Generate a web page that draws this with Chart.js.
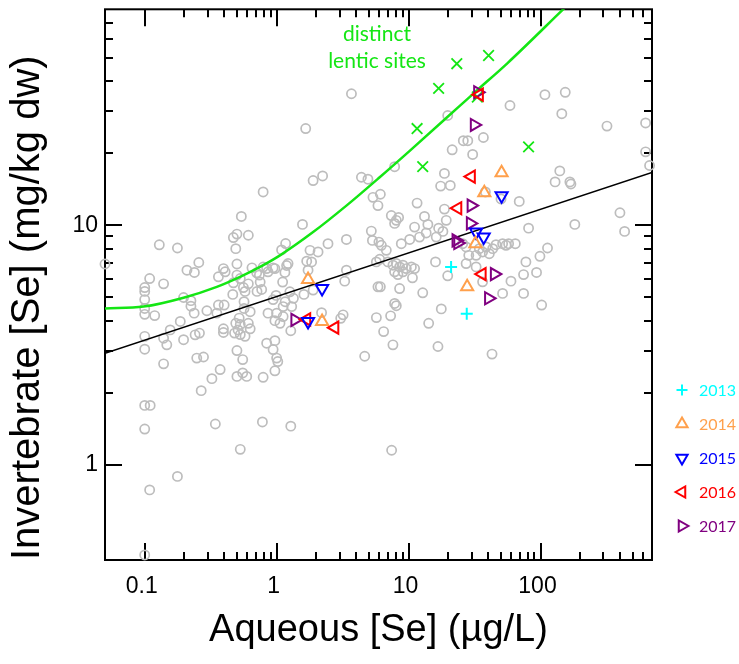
<!DOCTYPE html>
<html><head><meta charset="utf-8">
<script src="https://cdn.jsdelivr.net/npm/chart.js@4.4.1/dist/chart.umd.min.js"></script>
<style>html,body{margin:0;padding:0;background:#fff}#wrap{width:739px;height:664px;position:relative}</style>
</head><body><div id="wrap"><canvas id="c" width="739" height="664"></canvas></div>
<script>
// ---- axis tick labels ----
const xTickValues = [0.1, 1, 10, 100];
const xTickLabels = ['0.1', '1', '10', '100'];
const yTickValues = [1, 10];
const yTickLabels = ['1', '10'];
const legendYears = ['2013', '2014', '2015', '2016', '2017'];

// ---- all sites (grey circles) ----
const allAqueous = [0.79,0.54,0.50,0.61,0.47,0.49,0.129,0.177,1.17,1.09,0.257,0.05,0.209,0.238,0.50,0.395,0.407,0.65,0.79,0.94,1.19,0.362,0.50,0.53,0.109,0.139,0.1,0.1,0.1,0.1,0.1,0.119,0.197,0.224,0.224,0.237,0.296,0.362,0.40,0.352,0.465,0.56,0.576,0.61,0.71,0.77,0.75,0.74,0.86,0.97,1.11,0.99,0.94,1.16,0.566,0.566,0.63,0.52,0.49,0.53,0.61,0.63,0.51,0.48,0.53,0.576,0.395,0.395,0.86,1.0,0.97,1.12,1.06,0.186,0.156,0.139,0.147,0.197,0.241,0.26,0.1,0.1,0.50,0.553,0.84,0.97,0.94,1.0,1.02,0.97,0.248,0.279,0.139,0.373,0.323,0.50,0.553,0.593,0.79,0.47,0.706,0.84,1.155,1.22,0.268,0.1,0.11,0.1,0.343,0.78,1.28,0.53,7.44,0.177,0.109,0.1,4.65,3.19,1.28,5.7,7.31,7.84,8.07,6.47,7.61,14.2,17.7,16.7,42.9,102,51.6,74.4,12.8,1.89,2.23,4.39,4.92,7.84,5.37,6.11,5.86,11.6,18.7,17.5,20.7,18.7,7.4,8.07,7.84,8.4,13.2,14.0,11.1,13.6,19.3,16.9,1.57,5.22,3.38,2.45,5.32,5.96,6.22,6.78,8.81,10.2,12.1,16.2,18.2,2.06,1.79,1.69,1.84,1.73,3.38,3.28,5.7,6.04,6.97,7.61,8.07,8.55,9.06,9.61,10.5,11.1,7.84,8.3,9.06,10.7,16.0,19.8,5.86,6.11,8.55,2.19,3.06,1.61,1.89,1.26,1.34,1.12,1.30,108,154,58.7,145,319,626,26.0,28.1,36.9,30.6,626,671,140,129,167,170,69,50.2,38.2,400,182,81.2,434,51.6,57.3,64.4,54.8,46.0,113,99,77.5,93.3,74.4,59.7,27.3,28.6,32.5,36.4,40.9,43.4,34.4,38.7,25.7,27.3,32.5,36.4,19.8,21.4,3.69,1.66];
const allInvert = [13.8,10.9,9.2,9.1,8.9,8.0,8.3,8.05,8.4,7.9,7.0,6.9,6.5,6.36,6.9,6.6,6.4,6.65,6.7,6.65,6.8,6.1,6.2,6.0,6.0,5.7,5.5,5.3,4.9,4.5,4.25,4.2,5.0,4.85,4.6,4.3,4.4,4.65,4.65,4.3,5.15,5.5,5.3,5.7,5.3,5.4,5.8,6.2,6.4,6.6,5.8,5.1,4.9,4.8,4.8,4.5,4.36,4.1,3.9,3.86,3.9,3.7,3.66,3.55,3.5,3.44,3.7,3.57,4.3,4.3,4.0,4.16,3.9,3.97,3.66,3.38,3.17,3.33,3.49,3.55,3.44,3.04,3.0,2.75,3.22,3.3,3.03,2.79,2.7,2.47,2.79,2.82,2.64,2.5,2.29,2.34,2.42,2.34,2.32,5.76,6.34,6.6,6.36,6.93,2.04,1.77,1.77,1.41,1.48,1.51,1.45,1.16,1.15,0.894,0.785,0.42,2.84,4.23,3.63,4.12,4.19,4.72,4.62,3.6,3.17,3.9,4.48,3.12,2.9,4.65,5.2,5.2,5.23,15.4,16.1,15.9,15.6,17.6,13.1,13.5,12.1,12.4,16.5,14.6,14.7,11.7,11.0,10.5,10.2,10.8,10.9,10.1,9.84,9.3,10.5,9.74,10.1,9.47,8.74,8.39,8.66,8.52,8.26,7.87,8.39,8.74,8.94,8.94,9.44,7.75,7.87,7.09,7.04,6.5,6.5,5.85,7.04,7.22,7.04,6.82,6.93,6.71,6.82,6.6,6.71,6.6,6.4,6.23,6.4,6.04,7.04,6.16,5.54,5.54,5.45,4.32,4.09,5.15,5.37,5.28,4.96,4.58,4.58,35.2,36,31.7,29.3,26,26.8,22.6,22.6,23.3,19.8,20.3,17.8,16.9,15.2,15.2,14.9,12.6,12.9,13.8,11.3,10.1,9.74,9.44,8.39,8.39,8.39,8.26,8.31,8.05,7.43,7.04,6.36,6.23,5.85,8.13,7.5,7.5,7.75,7.62,8.0,8.0,8.13,8.39,6.93,6.71,5.81,28.8,20.7,35.5,25.4];

// ---- distinct lentic sites (green x) ----
const lenticAqueous = [11.6, 12.8, 16.9, 23.2, 40.4, 33.2, 81.2];
const lenticInvert = [25.4, 17.6, 37.4, 47.4, 51.3, 34.4, 21.3];

// ---- yearly samples ----
const y2013Aqueous = [21.0, 27.6];
const y2013Invert = [6.71, 4.28];
const y2014Aqueous = [1.73, 2.21, 27.8, 32.1, 37.5, 50.7];
const y2014Invert = [5.94, 3.97, 5.54, 8.39, 13.7, 16.6];
const y2015Aqueous = [2.21, 1.73, 50.7, 32.5, 37.1];
const y2015Invert = [5.45, 3.97, 13.3, 9.38, 8.94];
const y2016Aqueous = [1.69, 2.76, 23.6, 29.9, 36.1, 34.4];
const y2016Invert = [4.05, 3.74, 11.8, 16.0, 6.26, 35.2];
const y2017Aqueous = [1.375, 22.9, 23.6, 29.8, 29.4, 31.5, 33.4, 44.7, 40.4];
const y2017Invert = [4.03, 8.66, 8.44, 12.1, 10.2, 26.3, 36.0, 6.26, 4.96];

// ---- fitted lines ----
const allFitAqueous = [0.05, 700];
const allFitInvert = [2.92, 16.65];
const lenticFitAqueous = [0.05, 0.098, 0.197, 0.352, 0.528, 0.748, 1.06, 1.89, 3.38, 6.04, 10.2, 24.3, 32.5, 56.3, 151];
const lenticFitInvert = [4.50, 4.58, 4.99, 5.54, 6.10, 6.71, 7.50, 9.38, 12.1, 15.9, 20.5, 31.5, 36.4, 47.7, 80.7];

const pts = (xs, ys) => xs.map((x, i) => ({x: x, y: ys[i]}));
const GREEN = '#14e614';
const GREY = '#bdbdbd';
const yearStyles = [
  {color: '#00ffff', style: 'cross', rot: 0, r: 6},
  {color: '#ffa04c', style: 'triangle', rot: 0, r: 7},
  {color: '#0000ff', style: 'triangle', rot: 180, r: 7},
  {color: '#ff0000', style: 'triangle', rot: 270, r: 7},
  {color: '#800080', style: 'triangle', rot: 90, r: 7}
];
const yearData = [
  pts(y2013Aqueous, y2013Invert), pts(y2014Aqueous, y2014Invert), pts(y2015Aqueous, y2015Invert),
  pts(y2016Aqueous, y2016Invert), pts(y2017Aqueous, y2017Invert)
];

const datasets = [];
yearData.forEach((d, i) => {
  const s = yearStyles[i];
  datasets.push({label: legendYears[i], data: d, showLine: false, pointStyle: s.style, rotation: s.rot,
    pointRadius: s.r, borderWidth: 2, borderColor: s.color, backgroundColor: 'rgba(0,0,0,0)', order: i + 1, clip: false});
});
datasets.push({label: 'lentic', data: pts(lenticAqueous, lenticInvert), showLine: false, pointStyle: 'crossRot',
  pointRadius: 7.5, borderWidth: 1.8, borderColor: GREEN, backgroundColor: GREEN, order: 6, clip: false});
datasets.push({label: 'lenticFit', data: pts(lenticFitAqueous, lenticFitInvert), showLine: true, pointRadius: 0,
  borderColor: GREEN, borderWidth: 2.5, cubicInterpolationMode: 'monotone', order: 7});
datasets.push({label: 'allFit', data: pts(allFitAqueous, allFitInvert), showLine: true, pointRadius: 0,
  borderColor: '#000', borderWidth: 1.5, order: 8});
datasets.push({label: 'all', data: pts(allAqueous, allInvert), showLine: false, pointStyle: 'circle', pointRadius: 4.6,
  borderWidth: 1.7, borderColor: GREY, backgroundColor: 'rgba(0,0,0,0)', order: 20, clip: false});

const minorX = [], minorY = [];
[0.1, 1, 10, 100].forEach(d => { for (let k = 2; k <= 9; k++) { const v = +(d * k).toPrecision(3); if (v < 700) minorX.push(v); } });
[1, 10].forEach(d => { for (let k = 2; k <= 9; k++) { const v = +(d * k).toPrecision(3); if (v < 80) minorY.push(v); } });

const frameTicks = {
  id: 'frameTicks',
  beforeDatasetsDraw(chart) {
    const {ctx, chartArea: a, scales: {x, y}} = chart;
    ctx.save();
    ctx.strokeStyle = '#000';
    ctx.lineWidth = 2;
    ctx.beginPath();
    const tick = (px, len, vertical) => {
      if (vertical) { ctx.moveTo(px, a.bottom); ctx.lineTo(px, a.bottom - len); ctx.moveTo(px, a.top); ctx.lineTo(px, a.top + len); }
      else { ctx.moveTo(a.left, px); ctx.lineTo(a.left + len, px); ctx.moveTo(a.right, px); ctx.lineTo(a.right - len, px); }
    };
    xTickValues.forEach(v => tick(Math.round(x.getPixelForValue(v)), 17, true));
    minorX.forEach(v => tick(Math.round(x.getPixelForValue(v)), 8, true));
    yTickValues.forEach(v => tick(Math.round(y.getPixelForValue(v)), 17, false));
    minorY.forEach(v => tick(Math.round(y.getPixelForValue(v)), 8, false));
    ctx.stroke();
    ctx.strokeRect(a.left, a.top, a.right - a.left, a.bottom - a.top);
    ctx.restore();
  },
  afterDraw(chart) {
    const {ctx} = chart;
    ctx.save();
    ctx.fillStyle = GREEN;
    ctx.font = '21px Lato';
    ctx.textAlign = 'center';
    ctx.textBaseline = 'alphabetic';
    ctx.fillText('distinct', 377, 41);
    ctx.fillText('lentic sites', 377, 68);
    // legend
    ctx.font = '16px Lato';
    ctx.textAlign = 'left';
    ctx.textBaseline = 'middle';
    legendYears.forEach((yr, i) => {
      const s = yearStyles[i];
      const cy = 390 + i * 34;
      const opts = {pointStyle: s.style, radius: s.r - 0.5, rotation: s.rot, borderWidth: 2};
      ctx.strokeStyle = s.color; ctx.fillStyle = 'rgba(0,0,0,0)'; ctx.lineWidth = 2;
      Chart.helpers.drawPoint(ctx, opts, 682, cy);
      ctx.fillStyle = s.color;
      ctx.fillText(yr, 699, cy + 1);
    });
    ctx.restore();
  }
};

new Chart(document.getElementById('c'), {
  type: 'scatter',
  data: {datasets: datasets},
  plugins: [frameTicks],
  options: {
    responsive: false, animation: false, devicePixelRatio: 1,
    layout: {padding: {top: 5, right: 87, left: 0, bottom: 0}},
    plugins: {legend: {display: false}, tooltip: {enabled: false}},
    elements: {line: {tension: 0}},
    scales: {
      x: {
        type: 'logarithmic', min: 0.05, max: 700, position: 'bottom',
        grid: {display: false, drawTicks: false}, border: {display: false},
        afterBuildTicks: s => { s.ticks = xTickValues.map(v => ({value: v})); },
        afterFit: s => { s.height = 104; s.paddingLeft = 0; s.paddingRight = 0; },
        ticks: {autoSkip: false, maxRotation: 0, padding: 13, color: '#000', labelOffset: -3,
          font: {family: 'Liberation Sans', size: 23},
          callback: v => { const i = xTickValues.indexOf(v); return i >= 0 ? xTickLabels[i] : ''; }},
        title: {display: true, text: 'Aqueous [Se] (µg/L)', color: '#000',
          font: {family: 'Liberation Sans', size: 38}, padding: {top: 0, bottom: 11}}
      },
      y: {
        type: 'logarithmic', min: 0.4, max: 80, position: 'left',
        grid: {display: false, drawTicks: false}, border: {display: false},
        afterBuildTicks: s => { s.ticks = yTickValues.map(v => ({value: v})); },
        afterFit: s => { s.width = 105; s.paddingTop = 0; s.paddingBottom = 0; },
        ticks: {autoSkip: false, padding: 7, color: '#000',
          font: {family: 'Liberation Sans', size: 23},
          callback: v => { const i = yTickValues.indexOf(v); return i >= 0 ? yTickLabels[i] : ''; }},
        title: {display: true, text: 'Invertebrate [Se] (mg/kg dw)', color: '#000', align: 'start',
          font: {family: 'Liberation Sans', size: 40}, padding: {top: 4, bottom: 0}}
      }
    }
  }
});
</script></body></html>
